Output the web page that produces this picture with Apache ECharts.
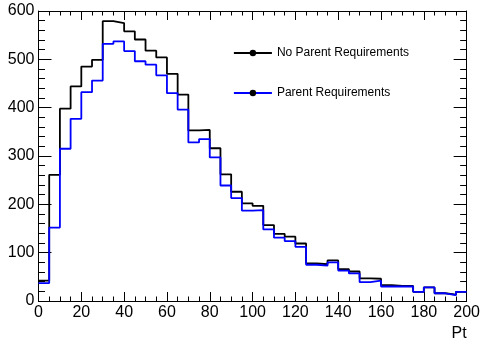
<!DOCTYPE html>
<html>
<head>
<meta charset="utf-8">
<title>Pt</title>
<script src="https://cdn.jsdelivr.net/npm/echarts@6/dist/echarts.min.js"></script>
<style>
  html, body { margin: 0; padding: 0; background: #fff; }
  #chart { width: 483px; height: 342px; }
</style>
</head>
<body>
<div id="chart"></div>
<script>
// Histogram bins: lower edges and common width (Pt)
const binLow = [0, 5, 10, 15, 20, 25, 30, 35, 40, 45,
                50, 55, 60, 65, 70, 75, 80, 85, 90, 95,
                100, 105, 110, 115, 120, 125, 130, 135, 140, 145,
                150, 155, 160, 165, 170, 175, 180, 185, 190, 195];
const binWidth = 5;

// Bin contents
const noParentReq = [42, 261, 398, 444, 485, 499, 579, 575, 558, 541,
                     518, 504, 470, 427, 353, 354, 316, 262, 226, 202,
                     197, 157, 139, 133, 119, 78, 76, 84, 66, 61,
                     47, 46, 33, 31, 31, 19, 28, 16, 13, 19];
const parentReq   = [37, 152, 315, 377, 432, 456, 532, 537, 517, 496,
                     489, 467, 430, 396, 328, 335, 297, 239, 213, 187,
                     188, 148, 131, 124, 112, 75, 73, 80, 63, 57,
                     39, 42, 30, 30, 30, 19, 28, 16, 12, 19];

// Axis ticks
const xTicks = [0, 20, 40, 60, 80, 100, 120, 140, 160, 180, 200];
const yTicks = [0, 100, 200, 300, 400, 500, 600];

const seriesNames = ['No Parent Requirements', 'Parent Requirements'];
const lineColors = ['#000000', '#0000ff'];

// Outline of a histogram: one point per bin's lower edge, plus the closing upper edge
function histOutline(values) {
  const pts = binLow.map((x, i) => [x, values[i]]);
  const last = binLow.length - 1;
  pts.push([binLow[last] + binWidth, values[last]]);
  return pts;
}

const font = 'Liberation Sans, Arial, Helvetica, sans-serif';

function xAxisDef(pos, showLabels) {
  return {
    type: 'value', position: pos,
    min: xTicks[0], max: xTicks[xTicks.length - 1], interval: xTicks[1] - xTicks[0],
    axisLine: { show: true, onZero: false, lineStyle: { color: '#000', width: 1 } },
    axisTick: { show: true, inside: true, length: 9, lineStyle: { color: '#000', width: 1 } },
    minorTick: { show: true, splitNumber: 4, length: 4.5, lineStyle: { color: '#000', width: 1 } },
    splitLine: { show: false },
    axisLabel: { show: showLabels, color: '#000', fontFamily: font, fontSize: 16, margin: 4 },
    name: showLabels ? 'Pt' : '',
    nameLocation: 'end', nameGap: 0,
    nameTextStyle: { color: '#000', fontFamily: font, fontSize: 16, align: 'right', verticalAlign: 'top', padding: [25, 0, 0, 0] }
  };
}

function yAxisDef(pos, showLabels) {
  return {
    type: 'value', position: pos,
    min: yTicks[0], max: yTicks[yTicks.length - 1], interval: yTicks[1] - yTicks[0],
    axisLine: { show: true, onZero: false, lineStyle: { color: '#000', width: 1 } },
    axisTick: { show: true, inside: true, length: 13, lineStyle: { color: '#000', width: 1 } },
    minorTick: { show: true, splitNumber: 5, length: 6.5, lineStyle: { color: '#000', width: 1 } },
    splitLine: { show: false },
    axisLabel: { show: showLabels, color: '#000', fontFamily: font, fontSize: 16, margin: 4, padding: [3, 0, 0, 0] }
  };
}

const chart = echarts.init(document.getElementById('chart'), null, { renderer: 'canvas' });
chart.setOption({
  animation: false,
  backgroundColor: '#fff',
  grid: { left: 38.5, right: 14.5, top: 11, bottom: 40, containLabel: false },
  xAxis: [xAxisDef('bottom', true), xAxisDef('top', false)],
  yAxis: [yAxisDef('left', true), yAxisDef('right', false)],
  legend: {
    orient: 'vertical', left: 233, top: 46, padding: 0,
    itemWidth: 38, itemHeight: 8, itemGap: 26,
    selectedMode: false,
    textStyle: { color: '#000', fontFamily: font, fontSize: 12, lineHeight: 14 },
    data: seriesNames.map((n, i) => ({
      name: n,
      itemStyle: { color: '#000' },
      lineStyle: { color: lineColors[i], width: 1.8 }
    }))
  },
  series: seriesNames.map((n, i) => ({
    name: n,
    type: 'line',
    step: 'end',
    xAxisIndex: 0, yAxisIndex: 0,
    symbol: 'circle', showSymbol: false,
    itemStyle: { color: '#000' },
    lineStyle: { color: lineColors[i], width: 1.8 },
    emphasis: { disabled: true },
    data: histOutline(i === 0 ? noParentReq : parentReq)
  }))
});
</script>
</body>
</html>
